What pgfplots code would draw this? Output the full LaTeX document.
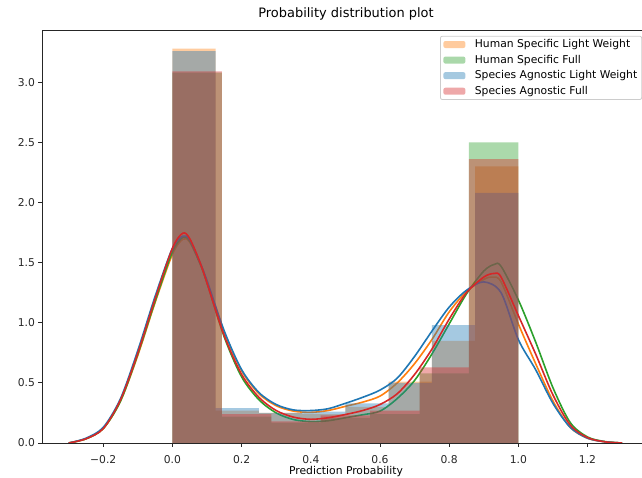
\documentclass[border=0pt]{standalone}
\usepackage{fontspec}
\setmainfont{DejaVu Sans}
\usepackage{pgfplots}
\pgfplotsset{compat=1.18}

\definecolor{tabblue}{HTML}{1F77B4}
\definecolor{taborange}{HTML}{FF7F0E}
\definecolor{tabgreen}{HTML}{2CA02C}
\definecolor{tabred}{HTML}{D62728}

\pgfplotsset{
  histbar/.style={ybar interval, fill=#1, fill opacity=0.4, draw=none,
    legend image code/.code={\fill[##1] (0bp,-3.5bp) rectangle (22bp,3.5bp);}},
  kde/.style={#1, line width=1.6bp, smooth, forget plot},
}

\begin{document}
\begin{tikzpicture}
\begin{axis}[
  scale only axis,
  width=608bp, height=413bp,
  xmin=-0.3771, xmax=1.3806,
  ymin=0, ymax=3.435,
  axis line style={black!85, line width=0.8bp},
  tick style={black!85, line width=0.8bp},
  tick align=outside,
  major tick length=3.6bp,
  xtick pos=left, ytick pos=left,
  xtick={-0.2,0,0.2,0.4,0.6,0.8,1.0,1.2},
  xticklabels={−0.2,0.0,0.2,0.4,0.6,0.8,1.0,1.2},
  ytick={0,0.5,1.0,1.5,2.0,2.5,3.0},
  yticklabels={0.0,0.5,1.0,1.5,2.0,2.5,3.0},
  ticklabel style={font=\fontsize{10.8}{12}\selectfont, text=black!85},
  xticklabel style={anchor=base, yshift=-16.5bp},
  title={Probability distribution plot},
  title style={at={(0.5,1)}, anchor=base, yshift=6.2bp, font=\fontsize{13}{15}\selectfont},
  xlabel={Prediction Probability},
  xlabel style={at={(0.5,0)}, anchor=base, yshift=-31.5bp, font=\fontsize{10.8}{12}\selectfont},
  legend cell align=left,
  legend style={at={(0.6546,0.986)}, anchor=north west,
    draw=black!20, line width=0.8bp, rounded corners=2bp,
    fill=white, fill opacity=0.8, text opacity=1,
    font=\fontsize{10.8}{12}\selectfont,
    inner xsep=3bp, inner ysep=2bp, row sep=2.9bp,
    nodes={inner sep=1.5bp},
    /tikz/every odd column/.append style={column sep=8bp}},
]

% Human Specific Light Weight
\addplot[histbar=taborange] coordinates {
(0,3.28) (0.125,0.27) (0.25,0.25) (0.375,0.24) (0.5,0.30) (0.625,0.51) (0.75,0.85) (0.875,2.30) (1.0,0)
};
\addlegendentry{Human Specific Light Weight}
\addplot[kde=taborange] coordinates {
(-0.30,0.00) (-0.25,0.035) (-0.20,0.12) (-0.15,0.35) (-0.10,0.73) (-0.05,1.17)
(0.00,1.57) (0.03,1.695) (0.05,1.67) (0.08,1.49) (0.10,1.34) (0.15,0.92)
(0.20,0.60) (0.25,0.41) (0.30,0.31) (0.35,0.265) (0.40,0.255) (0.45,0.27)
(0.50,0.305) (0.55,0.34) (0.60,0.39) (0.65,0.50) (0.70,0.66) (0.75,0.86)
(0.80,1.09) (0.85,1.26) (0.90,1.36) (0.925,1.38) (0.95,1.34) (1.00,0.99)
(1.05,0.66) (1.10,0.35) (1.15,0.13) (1.20,0.04) (1.25,0.01) (1.30,0.00)
};

% Human Specific Full
\addplot[histbar=tabgreen] coordinates {
(0,3.08) (0.142857,0.22) (0.285714,0.17) (0.428571,0.21) (0.571429,0.24) (0.714286,0.58) (0.857143,2.50) (1.0,0)
};
\addlegendentry{Human Specific Full}
\addplot[kde=tabgreen] coordinates {
(-0.30,0.00) (-0.25,0.035) (-0.20,0.12) (-0.15,0.35) (-0.10,0.74) (-0.05,1.18)
(0.00,1.59) (0.03,1.71) (0.05,1.68) (0.08,1.49) (0.10,1.33) (0.15,0.88)
(0.20,0.55) (0.25,0.36) (0.30,0.25) (0.35,0.195) (0.40,0.178) (0.45,0.185)
(0.50,0.21) (0.55,0.235) (0.60,0.265) (0.65,0.37) (0.70,0.52) (0.75,0.74)
(0.80,0.99) (0.85,1.24) (0.90,1.43) (0.93,1.485) (0.95,1.47) (1.00,1.19)
(1.05,0.84) (1.10,0.46) (1.15,0.17) (1.20,0.05) (1.25,0.012) (1.30,0.00)
};

% Species Agnostic Light Weight
\addplot[histbar=tabblue] coordinates {
(0,3.26) (0.125,0.29) (0.25,0.25) (0.375,0.26) (0.5,0.33) (0.625,0.50) (0.75,0.98) (0.875,2.08) (1.0,0)
};
\addlegendentry{Species Agnostic Light Weight}
\addplot[kde=tabblue] coordinates {
(-0.30,0.00) (-0.25,0.04) (-0.20,0.13) (-0.15,0.37) (-0.10,0.77) (-0.05,1.22)
(0.00,1.62) (0.03,1.72) (0.05,1.69) (0.08,1.50) (0.10,1.35) (0.15,0.93)
(0.20,0.61) (0.25,0.42) (0.30,0.32) (0.35,0.275) (0.40,0.27) (0.45,0.285)
(0.50,0.33) (0.55,0.38) (0.60,0.44) (0.65,0.54) (0.70,0.72) (0.75,0.93)
(0.80,1.13) (0.85,1.27) (0.90,1.34) (0.95,1.25) (1.00,0.86)
(1.05,0.61) (1.10,0.33) (1.15,0.13) (1.20,0.04) (1.25,0.01) (1.30,0.00)
};

% Species Agnostic Full
\addplot[histbar=tabred] coordinates {
(0,3.09) (0.142857,0.24) (0.285714,0.18) (0.428571,0.23) (0.571429,0.27) (0.714286,0.63) (0.857143,2.36) (1.0,0)
};
\addlegendentry{Species Agnostic Full}
\addplot[kde=tabred] coordinates {
(-0.30,0.00) (-0.25,0.035) (-0.20,0.12) (-0.15,0.36) (-0.10,0.75) (-0.05,1.20)
(0.00,1.62) (0.03,1.745) (0.05,1.70) (0.08,1.50) (0.10,1.33) (0.15,0.89)
(0.20,0.57) (0.25,0.38) (0.30,0.27) (0.35,0.215) (0.40,0.197) (0.45,0.21)
(0.50,0.237) (0.55,0.27) (0.60,0.32) (0.65,0.41) (0.70,0.57) (0.75,0.78)
(0.80,1.03) (0.85,1.25) (0.90,1.38) (0.93,1.41) (0.95,1.38) (1.00,1.06)
(1.05,0.74) (1.10,0.40) (1.15,0.15) (1.20,0.045) (1.25,0.01) (1.30,0.00)
};

\end{axis}
\pgfresetboundingbox
\path[use as bounding box] ([xshift=-42bp,yshift=-35bp]current axis.south west)
  rectangle ([xshift=-8bp,yshift=30bp]current axis.north east);
\end{tikzpicture}
\end{document}
